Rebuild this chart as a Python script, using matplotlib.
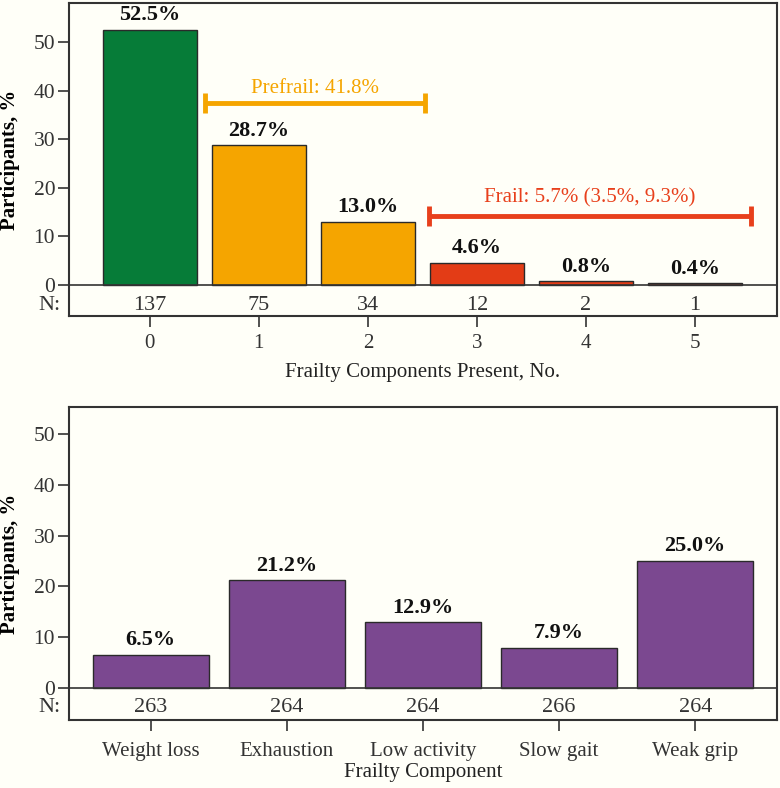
import numpy as np
import matplotlib
matplotlib.use('Agg')
import matplotlib.pyplot as plt
import matplotlib.transforms as mtransforms

# top panel data
n_comp = [0, 1, 2, 3, 4, 5]
pct_comp = [52.5, 28.7, 13.0, 4.6, 0.8, 0.4]
n_comp_N = [137, 75, 34, 12, 2, 1]
comp_colors = ['#067c38', '#f5a500', '#f5a500', '#e33c16', '#e33c16', '#e33c16']

# bottom panel data
components = ['Weight loss', 'Exhaustion', 'Low activity', 'Slow gait', 'Weak grip']
pct_each = [6.5, 21.2, 12.9, 7.9, 25.0]
each_N = [263, 264, 264, 266, 264]

bg = '#fffff8'
plt.rcParams['font.family'] = ['Liberation Serif', 'DejaVu Serif']
plt.rcParams['axes.edgecolor'] = '#333333'

fig = plt.figure(figsize=(7.8, 7.88), dpi=100, facecolor=bg)
ax1 = fig.add_axes([0.0885, 0.599, 0.9075, 0.397])
ax2 = fig.add_axes([0.0885, 0.0863, 0.9075, 0.3972])


def panel(ax, xs, vals, ns, colors, width, xlim, ylim, ticklabels, xlabel, xpad, lpad, nfrac):
    ax.set_facecolor(bg)
    ax.bar(xs, vals, width=width, color=colors, edgecolor='#2a2a2a', linewidth=1.0, zorder=2)
    ax.axhline(0, color='#333333', linewidth=1.2, zorder=3)
    ny = ylim[0] * nfrac
    for x, v, n in zip(xs, vals, ns):
        ax.text(x, v + 0.9, '%.1f%%' % v, ha='center', va='bottom',
                fontsize=16, fontweight='bold', color='#111111')
        ax.text(x, ny, str(n), ha='center', va='center',
                fontsize=16, color='#333333')
    trans = mtransforms.blended_transform_factory(ax.transAxes, ax.transData)
    ax.text(-0.012, ny, 'N:', transform=trans, ha='right', va='center',
            fontsize=16, color='#333333')
    ax.set_xlim(xlim)
    ax.set_ylim(ylim)
    ax.set_yticks([0, 10, 20, 30, 40, 50])
    ax.set_xticks(xs)
    ax.set_xticklabels(ticklabels)
    ax.tick_params(axis='y', labelsize=15.5, colors='#333333', length=8, width=1.2, pad=2)
    ax.tick_params(axis='x', labelsize=15, colors='#333333', length=8, width=1.2, pad=xpad)
    for sp in ax.spines.values():
        sp.set_linewidth(1.5)
    ax.set_ylabel('Participants, %', fontsize=15, fontweight='bold')
    ax.set_xlabel(xlabel, fontsize=15, color='#222222', labelpad=lpad)


panel(ax1, n_comp, pct_comp, n_comp_N, comp_colors, 0.86, (-0.74, 5.75), (-6.4, 58.0),
      [str(v) for v in n_comp], 'Frailty Components Present, No.', 5, 7, 0.66)
panel(ax2, np.arange(len(components)), pct_each, each_N, '#7b4890', 0.855,
      (-0.6, 4.6), (-6.3, 55.3), components, 'Frailty Component', 8, 1, 0.62)
ax1.yaxis.set_label_coords(-0.069, 0.5)
ax2.yaxis.set_label_coords(-0.069, 0.5)

# prefrail / frail brackets
def bracket(ax, x0, x1, y, color, label, ty):
    ax.plot([x0, x1], [y, y], color=color, linewidth=3.5, zorder=4, solid_capstyle='butt')
    for x in (x0, x1):
        ax.plot([x, x], [y - 2.1, y + 2.1], color=color, linewidth=3.5, zorder=4,
                solid_capstyle='butt')
    ax.text((x0 + x1) / 2, ty, label, ha='center', va='center', fontsize=15, color=color)

bracket(ax1, 0.51, 2.52, 37.4, '#f5a500', 'Prefrail: 41.8%', 40.4)
bracket(ax1, 2.56, 5.51, 14.2, '#e8401c', 'Frail: 5.7% (3.5%, 9.3%)', 18.0)

plt.savefig('out.png', dpi=100, facecolor=bg)
